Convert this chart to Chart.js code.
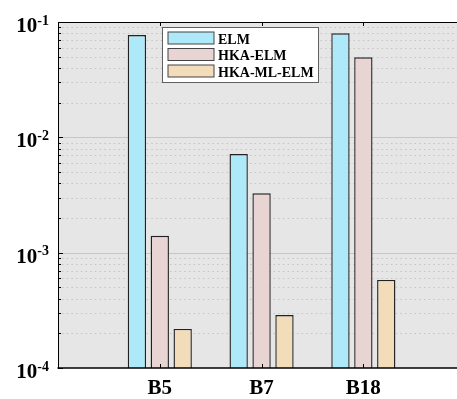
<!DOCTYPE html>
<html>
<head>
<meta charset="utf-8">
<script src="https://cdn.jsdelivr.net/npm/chart.js@4.4.1/dist/chart.umd.min.js"></script>
<style>
  html, body { margin: 0; padding: 0; background: #fff; overflow: hidden; }
  #wrap { width: 457px; height: 399px; }
</style>
</head>
<body>
<div id="wrap"><canvas id="c" width="457" height="399"></canvas></div>
<script>
const groups = ['B5', 'B7', 'B18']
const methods = ['ELM', 'HKA-ELM', 'HKA-ML-ELM']
const elm = [0.077, 0.00716, 0.0798]
const hkaElm = [0.0014, 0.00327, 0.0494]
const hkaMlElm = [0.000218, 0.000288, 0.00058]
const yTicks = [1e-4, 1e-3, 1e-2, 1e-1]
const fills = ['#aee9fa', '#e9d4d4', '#f2dcb9']

const serif = '"Liberation Serif", "Times New Roman", serif'

// groups sit at x = 1, 2, 3 on a linear axis
const points = vals => vals.map((v, i) => ({ x: i + 1, y: v }))

const hline = (ctx, x0, x1, y) => {
  ctx.beginPath()
  ctx.moveTo(x0, y)
  ctx.lineTo(x1, y)
  ctx.stroke()
}

const vline = (ctx, x, y0, y1) => {
  ctx.beginPath()
  ctx.moveTo(x, y0)
  ctx.lineTo(x, y1)
  ctx.stroke()
}

// matlab-ish axes: grey backdrop, dotted minor grid, inward ticks, boxed legend
// (the box is cut off on the right, so everything runs past the canvas edge)
const axesBox = {
  id: 'axesBox',
  beforeDatasetsDraw(chart) {
    const { ctx, chartArea: a, scales: { y } } = chart
    const R = chart.width + 10
    ctx.save()
    ctx.fillStyle = '#e6e6e6'
    ctx.fillRect(a.left, a.top, R - a.left, a.height)

    ctx.lineWidth = 1
    ctx.strokeStyle = '#c4c4c4'
    ctx.setLineDash([1.5, 3.2])
    for (let d = 0; d < yTicks.length - 1; d++) {
      for (let m = 2; m <= 9; m++) {
        const py = Math.round(y.getPixelForValue(yTicks[d] * m)) + 0.5
        hline(ctx, a.left + 4, R, py)
      }
    }
    ctx.setLineDash([])
    ctx.strokeStyle = '#c6c6c6'
    yTicks.slice(1, -1).forEach(v => {
      const py = Math.round(y.getPixelForValue(v)) + 0.5
      hline(ctx, a.left, R, py)
    })
    ctx.restore()
  },
  afterDatasetsDraw(chart) {
    const { ctx, chartArea: a, scales: { x, y } } = chart
    const R = chart.width + 10
    ctx.save()
    ctx.strokeStyle = '#000'
    ctx.lineWidth = 1
    const L = Math.round(a.left) + 0.5
    const T = Math.round(a.top) + 0.5
    const B = Math.round(a.bottom)
    vline(ctx, L, a.top, a.bottom)
    hline(ctx, a.left, R, T)
    ctx.lineWidth = 1.5
    hline(ctx, a.left - 0.5, R, B)
    ctx.lineWidth = 1

    // x ticks at the group centres, top and bottom, pointing inward
    groups.forEach((g, i) => {
      const px = Math.round(x.getPixelForValue(i + 1)) + 0.5
      vline(ctx, px, a.top, a.top + 4)
      vline(ctx, px, a.bottom - 4, a.bottom)
    })

    // y ticks, major and minor
    for (let d = 0; d < yTicks.length; d++) {
      const py = Math.round(y.getPixelForValue(yTicks[d])) + 0.5
      hline(ctx, a.left, a.left + 5, py)
      if (d === yTicks.length - 1) break
      for (let m = 2; m <= 9; m++) {
        const pm = Math.round(y.getPixelForValue(yTicks[d] * m)) + 0.5
        hline(ctx, a.left, a.left + 3, pm)
      }
    }

    // y labels as 10 with a raised exponent
    ctx.fillStyle = '#000'
    ctx.textBaseline = 'alphabetic'
    ctx.textAlign = 'left'
    yTicks.forEach(v => {
      const py = y.getPixelForValue(v)
      const exp = String(Math.round(Math.log10(v)))
      ctx.font = 'bold 14px ' + serif
      const we = ctx.measureText(exp).width
      ctx.font = 'bold 21px ' + serif
      const wb = ctx.measureText('10').width
      const right = a.left - 9
      ctx.fillText('10', right - we - wb, py + 10)
      ctx.font = 'bold 14px ' + serif
      ctx.fillText(exp, right - we, py + 2.5)
    })

    // legend box
    const lx = a.left + 104.5
    const ly = a.top + 5.5
    ctx.fillStyle = '#fff'
    ctx.fillRect(lx, ly, 156, 55)
    ctx.strokeStyle = '#606060'
    ctx.strokeRect(lx, ly, 156, 55)
    ctx.font = 'bold 14px ' + serif
    chart.data.datasets.forEach((ds, i) => {
      const ry = ly + 4.5 + i * 16.5
      ctx.fillStyle = ds.backgroundColor
      ctx.fillRect(lx + 5.5, ry, 46, 12)
      ctx.strokeStyle = '#444'
      ctx.strokeRect(lx + 5.5, ry, 46, 12)
      ctx.fillStyle = '#000'
      ctx.fillText(ds.label, lx + 55.5, ry + 11.5)
    })
    ctx.restore()
  }
}

new Chart(document.getElementById('c'), {
  type: 'bar',
  data: {
    datasets: [
      { label: methods[0], data: points(elm), backgroundColor: fills[0] },
      { label: methods[1], data: points(hkaElm), backgroundColor: fills[1] },
      { label: methods[2], data: points(hkaMlElm), backgroundColor: fills[2] }
    ]
  },
  options: {
    responsive: false,
    animation: false,
    devicePixelRatio: 1,
    layout: { padding: { left: 58, top: 22, right: 0, bottom: 0 } },
    datasets: {
      bar: {
        categoryPercentage: 0.675,
        barPercentage: 0.8,
        borderColor: '#222',
        borderWidth: 1.4
      }
    },
    plugins: {
      legend: { display: false },
      tooltip: { enabled: false }
    },
    scales: {
      x: {
        type: 'linear',
        offset: false,
        min: 0,
        max: 3.92,
        grid: { display: false, drawTicks: false },
        border: { display: false },
        afterBuildTicks: scale => {
          scale.ticks = groups.map((g, i) => ({ value: i + 1 }))
        },
        afterFit: scale => { scale.height = 31 },
        ticks: {
          autoSkip: false,
          maxRotation: 0,
          padding: 10,
          color: '#000',
          font: { family: serif, size: 21, weight: 'bold', lineHeight: 1 },
          callback: v => groups[v - 1]
        }
      },
      y: {
        type: 'logarithmic',
        min: 1e-4,
        max: 1e-1,
        display: false
      }
    }
  },
  plugins: [axesBox]
})
</script>
</body>
</html>
